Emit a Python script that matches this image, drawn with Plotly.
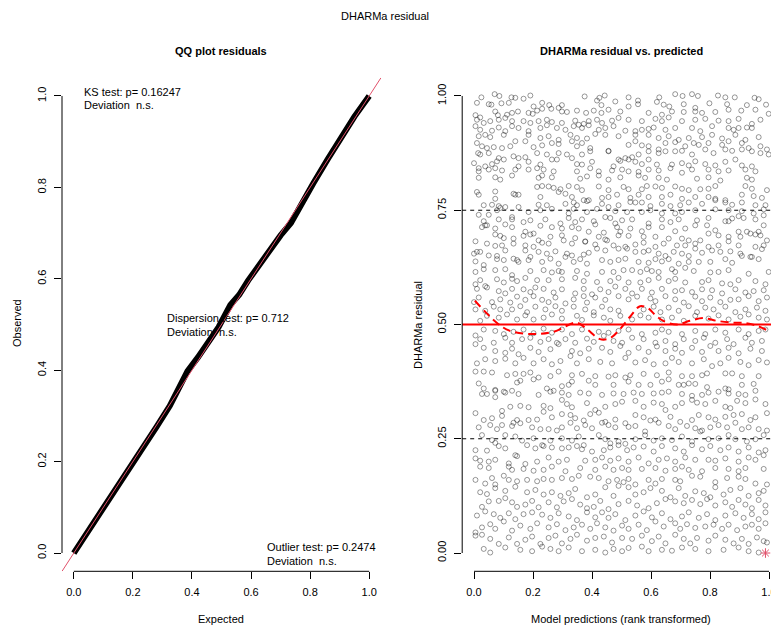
import plotly.graph_objects as go

# ---------------- data ----------------
# QQ plot: expected vs observed quantiles (band centre)
qq_expected = [0.0, 0.06, 0.12, 0.18, 0.235, 0.28, 0.325, 0.36, 0.385, 0.42, 0.45, 0.49,
               0.53, 0.56, 0.59, 0.65, 0.70, 0.735, 0.77, 0.81, 0.86, 0.91, 0.95, 1.0]
qq_observed = [0.0, 0.058, 0.118, 0.178, 0.230, 0.276, 0.322, 0.368, 0.398, 0.428, 0.455, 0.494,
               0.543, 0.565, 0.596, 0.652, 0.695, 0.722, 0.765, 0.808, 0.862, 0.915, 0.955, 1.0]

ks_text = ["KS test: p= 0.16247", "Deviation\u00a0 n.s."]
disp_text = ["Dispersion test: p= 0.712", "Deviation\u00a0 n.s."]
outlier_text = ["Outlier test: p= 0.2474", "Deviation\u00a0 n.s."]

# residual vs predicted scatter, (rank-transformed prediction, scaled residual)
points_band_1 = [
 (0.025,0.997),(0.070,1.004),(0.086,1.000),(0.127,0.997),(0.140,0.996),(0.168,0.994),(0.191,1.001),(0.375,0.999),
 (0.425,0.996),(0.443,1.001),(0.524,0.997),(0.556,0.990),(0.628,0.997),(0.682,1.004),(0.707,1.000),(0.739,1.004),
 (0.759,1.000),(0.827,1.001),(0.852,0.997),(0.884,0.997),(0.951,0.996),(0.965,0.993),
 (0.010,0.985),(0.050,0.982),(0.059,0.981),(0.093,0.984),(0.118,0.985),(0.202,0.977),(0.231,0.985),(0.255,0.980),
 (0.298,0.980),(0.417,0.990),(0.432,0.980),(0.479,0.988),(0.524,0.977),(0.556,0.982),(0.620,0.987),(0.643,0.981),
 (0.662,0.977),(0.711,0.982),(0.750,0.974),(0.798,0.984),(0.858,0.982),(0.925,0.980),(0.990,0.981),
 (0.005,0.958),(0.021,0.953),(0.072,0.966),(0.081,0.958),(0.112,0.959),(0.129,0.963),(0.149,0.966),(0.185,0.963),
 (0.199,0.961),(0.214,0.968),(0.231,0.972),(0.262,0.972),(0.287,0.974),(0.298,0.966),(0.315,0.965),(0.349,0.968),
 (0.380,0.963),(0.406,0.968),(0.432,0.963),(0.456,0.970),(0.496,0.966),(0.592,0.963),(0.637,0.959),(0.671,0.966),
 (0.711,0.965),(0.750,0.966),(0.773,0.963),(0.818,0.965),(0.863,0.970),(0.906,0.968),(0.954,0.970),(0.999,0.961),
 (0.010,0.948),(0.033,0.941),(0.055,0.945),(0.084,0.948),(0.106,0.952),(0.129,0.945),(0.168,0.945),(0.191,0.941),
 (0.219,0.945),(0.247,0.948),(0.264,0.943),(0.298,0.941),(0.343,0.946),(0.355,0.937),(0.372,0.939),(0.389,0.945),
 (0.417,0.948),(0.434,0.941),(0.468,0.946),(0.490,0.952),(0.524,0.948),(0.569,0.945),(0.615,0.950),(0.637,0.945),
 (0.660,0.953),(0.705,0.945),(0.750,0.948),(0.784,0.950),(0.829,0.946),(0.863,0.945),(0.897,0.950),(0.942,0.939),
 (0.971,0.948),
 (0.005,0.934),(0.021,0.926),(0.061,0.924),(0.084,0.931),(0.106,0.923),(0.129,0.934),(0.151,0.930),(0.185,0.923),
 (0.225,0.930),(0.247,0.936),(0.281,0.930),(0.310,0.926),(0.338,0.934),(0.366,0.930),(0.389,0.936),(0.423,0.926),
 (0.445,0.930),(0.473,0.934),(0.513,0.924),(0.547,0.923),(0.569,0.926),(0.592,0.928),(0.609,0.931),(0.649,0.926),
 (0.682,0.930),(0.739,0.930),(0.767,0.923),(0.807,0.934),(0.863,0.930),(0.880,0.926),(0.897,0.930),(0.925,0.931),
 (0.942,0.930),
 (0.016,0.912),(0.038,0.915),(0.055,0.910),(0.101,0.915),(0.140,0.901),(0.185,0.915),(0.225,0.908),(0.253,0.912),
 (0.287,0.904),(0.327,0.915),(0.349,0.908),(0.383,0.907),(0.411,0.917),(0.445,0.915),(0.490,0.912),(0.547,0.915),
 (0.592,0.915),(0.626,0.908),(0.660,0.912),(0.694,0.904),(0.728,0.908),(0.773,0.910),(0.807,0.915),(0.841,0.907),
 (0.886,0.915),(0.920,0.904),(0.965,0.910),
 (0.010,0.897),(0.027,0.890),(0.044,0.886),(0.067,0.888),(0.095,0.886),(0.123,0.890),(0.174,0.901),(0.202,0.888),
 (0.231,0.892),(0.264,0.897),(0.287,0.895),(0.332,0.901),(0.349,0.890),(0.366,0.897),(0.394,0.886),(0.456,0.880),
 (0.524,0.893),(0.547,0.901),(0.569,0.892),(0.592,0.890),(0.626,0.883),(0.649,0.897),(0.682,0.899),(0.716,0.890),
 (0.745,0.897),(0.762,0.893),(0.795,0.897),(0.841,0.893),(0.863,0.901),(0.908,0.897),(0.931,0.886),(0.971,0.890),
 (0.993,0.883),
 (0.014,0.875),(0.021,0.872),(0.050,0.875),(0.084,0.864),(0.134,0.868),(0.151,0.864),(0.174,0.866),(0.214,0.875),
 (0.247,0.872),(0.287,0.875),(0.315,0.872),(0.366,0.872),(0.394,0.879),(0.456,0.879),(0.490,0.861),(0.513,0.864),
 (0.536,0.866),(0.558,0.872),(0.592,0.879),(0.626,0.875),(0.649,0.879),(0.682,0.879),(0.705,0.880),(0.739,0.872),
 (0.784,0.883),(0.812,0.875),(0.852,0.883),(0.875,0.880),(0.908,0.883),(0.942,0.879),(0.971,0.875),(0.999,0.872),
 (0.000,0.853),(0.016,0.842),(0.038,0.846),(0.061,0.851),(0.078,0.857),(0.101,0.861),(0.151,0.846),(0.185,0.856),
 (0.225,0.850),(0.264,0.861),(0.281,0.861),(0.332,0.864),(0.349,0.851),(0.366,0.850),(0.400,0.856),(0.473,0.846),
 (0.496,0.858),(0.524,0.861),(0.547,0.856),(0.569,0.851),(0.592,0.861),(0.620,0.850),(0.671,0.850),(0.705,0.853),
 (0.728,0.848),(0.750,0.857),(0.784,0.851),(0.818,0.848),(0.852,0.856),(0.886,0.861),(0.908,0.848),(0.942,0.846),
 (0.016,0.835),(0.050,0.839),(0.072,0.842),(0.095,0.837),(0.140,0.839),(0.185,0.839),(0.214,0.842),(0.236,0.839),
 (0.270,0.835),(0.349,0.835),(0.394,0.842),(0.423,0.835),(0.468,0.837),(0.502,0.839),(0.524,0.835),(0.558,0.834),
 (0.592,0.839),(0.626,0.837),(0.666,0.842),(0.705,0.832),(0.739,0.839),(0.795,0.839),(0.829,0.835),(0.863,0.837),
 (0.920,0.839),(0.954,0.835),
 (0.016,0.821),(0.072,0.822),(0.089,0.817),(0.129,0.826),(0.219,0.821),(0.231,0.826),(0.264,0.822),(0.360,0.819),
 (0.383,0.824),(0.423,0.826),(0.456,0.817),(0.496,0.822),(0.558,0.826),(0.580,0.821),(0.626,0.821),(0.654,0.817),
 (0.756,0.819),(0.795,0.822),(0.835,0.815),(0.925,0.821),(0.942,0.817),
]

points_band_2 = [
 (0.010,0.790),(0.016,0.784),(0.072,0.791),(0.134,0.786),(0.151,0.784),(0.214,0.801),(0.231,0.803),(0.253,0.802),
 (0.270,0.799),(0.293,0.796),(0.321,0.803),(0.349,0.801),(0.366,0.794),(0.423,0.802),(0.456,0.794),(0.507,0.801),
 (0.524,0.796),(0.569,0.796),(0.586,0.803),(0.615,0.802),(0.637,0.799),(0.682,0.802),(0.705,0.797),(0.728,0.794),
 (0.767,0.796),(0.795,0.797),(0.818,0.803),(0.920,0.803),(0.942,0.797),(0.993,0.794),
 (0.072,0.775),(0.140,0.784),(0.225,0.779),(0.287,0.790),(0.310,0.786),(0.332,0.779),(0.372,0.772),(0.389,0.772),
 (0.434,0.777),(0.456,0.779),(0.485,0.784),(0.530,0.777),(0.558,0.784),(0.592,0.779),(0.637,0.779),(0.666,0.784),
 (0.705,0.775),(0.750,0.779),(0.795,0.779),(0.818,0.775),(0.852,0.772),(0.908,0.784),(0.948,0.781),(0.976,0.777),
 (0.033,0.761),(0.061,0.762),(0.084,0.759),(0.106,0.757),(0.151,0.757),(0.219,0.762),(0.247,0.761),(0.310,0.764),
 (0.338,0.767),(0.349,0.761),(0.383,0.770),(0.434,0.764),(0.456,0.757),(0.490,0.761),(0.530,0.768),(0.547,0.767),
 (0.569,0.767),(0.598,0.759),(0.637,0.764),(0.666,0.759),(0.699,0.761),(0.728,0.767),(0.773,0.764),(0.818,0.772),
 (0.852,0.767),(0.875,0.762),(0.908,0.767),(0.954,0.761),(0.988,0.761),
 (0.016,0.740),(0.050,0.740),(0.078,0.750),(0.089,0.755),(0.129,0.735),(0.185,0.746),(0.225,0.750),(0.264,0.753),
 (0.321,0.743),(0.338,0.753),(0.383,0.746),(0.417,0.753),(0.445,0.735),(0.479,0.748),(0.519,0.746),(0.569,0.746),
 (0.598,0.750),(0.637,0.743),(0.682,0.743),(0.705,0.746),(0.750,0.750),(0.818,0.752),(0.863,0.750),(0.908,0.748),
 (0.948,0.743),(0.982,0.752),
 (0.033,0.726),(0.038,0.717),(0.084,0.730),(0.129,0.730),(0.168,0.724),(0.191,0.728),(0.242,0.730),(0.293,0.721),
 (0.321,0.733),(0.343,0.724),(0.366,0.730),(0.406,0.726),(0.462,0.733),(0.479,0.721),(0.502,0.728),(0.536,0.730),
 (0.592,0.721),(0.637,0.730),(0.666,0.724),(0.694,0.730),(0.756,0.728),(0.795,0.733),(0.852,0.726),(0.875,0.732),
 (0.897,0.737),(0.914,0.733),(0.954,0.730),(0.982,0.739),
 (0.027,0.713),(0.044,0.717),(0.072,0.710),(0.106,0.719),(0.129,0.713),(0.174,0.703),(0.202,0.699),(0.225,0.716),
 (0.264,0.713),(0.298,0.710),(0.332,0.713),(0.355,0.710),(0.389,0.703),(0.411,0.719),(0.440,0.701),(0.485,0.713),
 (0.496,0.703),(0.530,0.710),(0.569,0.704),(0.592,0.713),(0.637,0.713),(0.682,0.704),(0.716,0.710),(0.750,0.717),
 (0.790,0.717),(0.818,0.706),(0.863,0.726),(0.897,0.703),(0.925,0.703),(0.965,0.703),(0.982,0.717),
 (0.005,0.682),(0.072,0.697),(0.089,0.694),(0.101,0.689),(0.134,0.688),(0.168,0.694),(0.191,0.697),(0.219,0.684),
 (0.259,0.692),(0.298,0.695),(0.343,0.689),(0.377,0.682),(0.423,0.692),(0.451,0.684),(0.490,0.695),(0.524,0.694),
 (0.575,0.692),(0.615,0.692),(0.660,0.688),(0.705,0.688),(0.728,0.684),(0.767,0.684),(0.795,0.699),(0.829,0.695),
 (0.863,0.692),(0.903,0.692),(0.937,0.699),(0.954,0.697),(0.971,0.695),(0.993,0.684),
 (0.000,0.655),(0.044,0.677),(0.072,0.672),(0.095,0.673),(0.134,0.677),(0.174,0.673),(0.202,0.670),(0.231,0.679),
 (0.253,0.677),(0.304,0.684),(0.332,0.677),(0.377,0.681),(0.411,0.675),(0.445,0.686),(0.473,0.673),(0.513,0.670),
 (0.547,0.675),(0.575,0.679),(0.615,0.670),(0.643,0.677),(0.688,0.673),(0.716,0.673),(0.750,0.677),(0.795,0.670),
 (0.829,0.673),(0.863,0.682),(0.897,0.673),(0.954,0.670),(0.982,0.673),
 (0.010,0.659),(0.021,0.659),(0.050,0.651),(0.078,0.650),(0.106,0.662),(0.146,0.641),(0.174,0.662),(0.191,0.648),
 (0.219,0.659),(0.247,0.655),(0.276,0.660),(0.315,0.655),(0.332,0.651),(0.372,0.653),(0.389,0.657),(0.417,0.666),
 (0.445,0.662),(0.490,0.666),(0.519,0.666),(0.547,0.659),(0.575,0.659),(0.592,0.662),(0.626,0.655),(0.649,0.650),
 (0.677,0.659),(0.705,0.655),(0.728,0.650),(0.750,0.666),(0.773,0.657),(0.807,0.662),(0.835,0.659),(0.869,0.660),
 (0.903,0.655),(0.942,0.648),(0.976,0.665),
 (0.005,0.638),(0.033,0.630),(0.078,0.643),(0.101,0.641),(0.134,0.644),(0.151,0.637),(0.185,0.641),(0.231,0.637),
 (0.259,0.644),(0.287,0.633),(0.310,0.648),(0.338,0.637),(0.360,0.643),(0.383,0.633),(0.434,0.641),(0.462,0.637),
 (0.490,0.641),(0.513,0.644),(0.558,0.637),(0.592,0.635),(0.615,0.643),(0.637,0.638),(0.660,0.643),(0.694,0.633),
 (0.728,0.637),(0.762,0.637),(0.801,0.637),(0.852,0.643),(0.875,0.635),(0.908,0.650),(0.937,0.648),(0.965,0.643),
 (0.005,0.615),(0.033,0.621),(0.072,0.619),(0.106,0.621),(0.129,0.608),(0.191,0.617),(0.236,0.619),(0.264,0.614),
 (0.287,0.617),(0.298,0.615),(0.349,0.617),(0.383,0.611),(0.434,0.615),(0.473,0.615),(0.507,0.619),(0.536,0.619),
 (0.564,0.615),(0.586,0.621),(0.603,0.617),(0.626,0.615),(0.671,0.621),(0.682,0.615),(0.716,0.624),(0.745,0.617),
 (0.801,0.614),(0.829,0.615),(0.863,0.619),(0.931,0.611),(0.999,0.615),
]

points_band_3 = [
 (0.005,0.588),(0.021,0.597),(0.038,0.584),(0.078,0.599),(0.101,0.592),(0.129,0.600),(0.146,0.595),(0.174,0.602),
 (0.214,0.597),(0.253,0.597),(0.298,0.599),(0.343,0.602),(0.372,0.595),(0.417,0.593),(0.462,0.595),(0.490,0.602),
 (0.524,0.592),(0.564,0.592),(0.592,0.597),(0.626,0.602),(0.660,0.595),(0.682,0.600),(0.716,0.592),(0.773,0.593),
 (0.795,0.597),(0.841,0.590),(0.869,0.588),(0.897,0.597),(0.954,0.595),(0.988,0.588),
 (0.010,0.578),(0.044,0.581),(0.084,0.573),(0.106,0.568),(0.129,0.578),(0.168,0.577),(0.191,0.571),(0.208,0.581),
 (0.236,0.578),(0.270,0.570),(0.298,0.577),(0.343,0.568),(0.372,0.578),(0.400,0.566),(0.428,0.577),(0.456,0.571),
 (0.479,0.583),(0.513,0.578),(0.536,0.568),(0.569,0.578),(0.603,0.570),(0.637,0.578),(0.682,0.573),(0.705,0.575),
 (0.739,0.571),(0.773,0.577),(0.807,0.575),(0.841,0.568),(0.886,0.577),(0.920,0.570),(0.948,0.573),(0.982,0.575),
 (0.000,0.549),(0.016,0.559),(0.061,0.549),(0.089,0.555),(0.123,0.548),(0.146,0.561),(0.174,0.554),(0.202,0.562),
 (0.231,0.554),(0.253,0.549),(0.276,0.559),(0.310,0.546),(0.338,0.555),(0.372,0.562),(0.383,0.548),(0.411,0.559),
 (0.445,0.554),(0.490,0.562),(0.524,0.555),(0.553,0.561),(0.598,0.557),(0.615,0.551),(0.649,0.562),(0.682,0.555),
 (0.711,0.548),(0.750,0.561),(0.773,0.551),(0.801,0.559),(0.835,0.549),(0.869,0.554),(0.897,0.555),(0.931,0.562),
 (0.965,0.551),(0.993,0.559),
 (0.005,0.533),(0.038,0.530),(0.067,0.539),(0.089,0.533),(0.129,0.533),(0.157,0.540),(0.180,0.527),(0.208,0.539),
 (0.242,0.533),(0.276,0.540),(0.298,0.530),(0.338,0.539),(0.377,0.533),(0.406,0.527),(0.434,0.539),(0.462,0.533),
 (0.490,0.530),(0.575,0.533),(0.609,0.539),(0.632,0.527),(0.660,0.537),(0.694,0.530),(0.728,0.540),(0.756,0.527),
 (0.784,0.537),(0.812,0.533),(0.852,0.539),(0.886,0.527),(0.920,0.533),(0.959,0.537),(0.988,0.530),
 (0.021,0.508),(0.044,0.519),(0.084,0.515),(0.112,0.522),(0.146,0.511),(0.174,0.520),(0.202,0.511),(0.236,0.515),
 (0.264,0.522),(0.298,0.513),(0.349,0.519),(0.366,0.510),(0.406,0.520),(0.440,0.515),(0.462,0.508),(0.496,0.519),
 (0.536,0.511),(0.564,0.520),(0.592,0.515),(0.637,0.511),(0.671,0.515),(0.711,0.508),(0.750,0.519),(0.795,0.513),
 (0.829,0.520),(0.863,0.511),(0.903,0.517),(0.931,0.522),(0.965,0.515),(0.993,0.511),
 (0.005,0.476),(0.033,0.489),(0.072,0.486),(0.101,0.479),(0.134,0.484),(0.168,0.489),(0.202,0.481),(0.236,0.491),
 (0.264,0.482),(0.298,0.489),(0.332,0.479),(0.366,0.489),(0.423,0.484),(0.456,0.482),(0.490,0.486),(0.524,0.489),
 (0.569,0.479),(0.615,0.482),(0.637,0.489),(0.660,0.484),(0.705,0.479),(0.750,0.486),(0.784,0.479),(0.818,0.489),
 (0.852,0.482),(0.897,0.489),(0.931,0.479),(0.965,0.486),(0.988,0.489),
 (0.005,0.457),(0.021,0.468),(0.067,0.460),(0.106,0.471),(0.129,0.460),(0.163,0.468),(0.191,0.471),(0.225,0.462),
 (0.253,0.468),(0.281,0.460),(0.310,0.468),(0.343,0.460),(0.383,0.469),(0.406,0.462),(0.440,0.475),(0.473,0.464),
 (0.502,0.460),(0.536,0.471),(0.575,0.468),(0.615,0.460),(0.649,0.464),(0.682,0.457),(0.711,0.468),(0.750,0.464),
 (0.779,0.471),(0.818,0.460),(0.858,0.468),(0.880,0.457),(0.920,0.471),(0.942,0.460),(0.976,0.464),
 (0.033,0.449),(0.072,0.442),(0.106,0.438),(0.129,0.447),(0.151,0.435),(0.191,0.449),(0.219,0.440),(0.259,0.446),
 (0.287,0.457),(0.332,0.442),(0.360,0.437),(0.389,0.447),(0.434,0.449),(0.462,0.440),(0.496,0.453),(0.524,0.438),
 (0.558,0.449),(0.592,0.440),(0.620,0.452),(0.649,0.442),(0.682,0.447),(0.705,0.438),(0.739,0.449),(0.773,0.440),
 (0.801,0.453),(0.829,0.442),(0.863,0.449),(0.897,0.437),(0.937,0.447),(0.976,0.442),
 (0.010,0.415),(0.038,0.424),(0.072,0.420),(0.106,0.425),(0.140,0.415),(0.168,0.427),(0.202,0.415),(0.236,0.424),
 (0.264,0.413),(0.293,0.420),(0.327,0.431),(0.349,0.415),(0.389,0.424),(0.428,0.418),(0.468,0.415),(0.513,0.427),
 (0.547,0.417),(0.580,0.422),(0.609,0.413),(0.649,0.415),(0.671,0.427),(0.694,0.418),(0.739,0.415),(0.779,0.424),
 (0.807,0.409),(0.835,0.415),(0.863,0.427),(0.903,0.418),(0.931,0.411),(0.965,0.422),(0.993,0.417),
]

points_band_4 = [
 (0.005,0.397),(0.033,0.397),(0.061,0.395),(0.112,0.389),(0.140,0.392),(0.168,0.392),(0.191,0.395),(0.219,0.384),
 (0.259,0.387),(0.287,0.397),(0.332,0.389),(0.366,0.392),(0.411,0.387),(0.456,0.386),(0.479,0.389),(0.513,0.384),
 (0.530,0.389),(0.575,0.392),(0.620,0.389),(0.660,0.395),(0.705,0.387),(0.739,0.387),(0.773,0.389),(0.790,0.393),
 (0.852,0.393),(0.875,0.393),(0.908,0.387),(0.965,0.387),
 (0.016,0.371),(0.033,0.360),(0.072,0.355),(0.101,0.353),(0.146,0.373),(0.157,0.377),(0.202,0.380),(0.247,0.360),
 (0.270,0.355),(0.298,0.365),(0.321,0.368),(0.332,0.375),(0.389,0.377),(0.411,0.368),(0.473,0.368),(0.524,0.375),
 (0.558,0.368),(0.598,0.368),(0.637,0.375),(0.660,0.380),(0.694,0.368),(0.711,0.368),(0.728,0.371),(0.750,0.370),
 (0.790,0.363),(0.852,0.360),(0.863,0.358),(0.908,0.368),(0.948,0.370),
 (0.027,0.348),(0.044,0.348),(0.072,0.357),(0.106,0.351),(0.129,0.355),(0.151,0.348),(0.219,0.346),(0.259,0.353),
 (0.298,0.351),(0.321,0.346),(0.360,0.351),(0.389,0.349),(0.434,0.346),(0.473,0.349),(0.507,0.348),(0.541,0.351),
 (0.569,0.348),(0.609,0.349),(0.637,0.351),(0.660,0.353),(0.705,0.348),(0.739,0.344),(0.773,0.346),(0.795,0.351),
 (0.829,0.353),(0.863,0.349),(0.897,0.348),(0.920,0.346),(0.954,0.355),
 (0.005,0.306),(0.072,0.341),(0.095,0.311),(0.123,0.320),(0.157,0.322),(0.185,0.319),(0.236,0.322),(0.259,0.317),
 (0.298,0.335),(0.315,0.326),(0.332,0.319),(0.383,0.328),(0.411,0.313),(0.445,0.320),(0.479,0.326),(0.502,0.331),
 (0.547,0.333),(0.575,0.320),(0.609,0.329),(0.637,0.326),(0.682,0.320),(0.705,0.328),(0.739,0.335),(0.756,0.329),
 (0.784,0.326),(0.818,0.333),(0.852,0.320),(0.869,0.317),(0.892,0.333),(0.920,0.328),(0.954,0.336),(0.988,0.326),
 (0.033,0.291),(0.061,0.295),(0.095,0.300),(0.134,0.285),(0.146,0.291),(0.185,0.291),(0.214,0.292),(0.236,0.309),
 (0.264,0.297),(0.298,0.304),(0.327,0.302),(0.343,0.295),(0.372,0.290),(0.394,0.304),(0.423,0.307),(0.445,0.287),
 (0.479,0.292),(0.513,0.284),(0.547,0.302),(0.575,0.297),(0.615,0.292),(0.649,0.313),(0.666,0.298),(0.699,0.287),
 (0.739,0.291),(0.762,0.302),(0.795,0.297),(0.818,0.292),(0.852,0.298),(0.880,0.302),(0.908,0.304),(0.937,0.291),
 (0.954,0.297),(0.993,0.306),
 (0.016,0.275),(0.055,0.280),(0.078,0.271),(0.095,0.280),(0.129,0.278),(0.157,0.284),(0.197,0.275),(0.225,0.271),
 (0.253,0.271),(0.281,0.268),(0.298,0.275),(0.327,0.285),(0.349,0.273),(0.377,0.280),(0.400,0.273),(0.434,0.285),
 (0.456,0.280),(0.479,0.275),(0.524,0.276),(0.547,0.278),(0.580,0.266),(0.598,0.290),(0.626,0.285),(0.660,0.278),
 (0.682,0.271),(0.722,0.278),(0.750,0.273),(0.773,0.268),(0.801,0.275),(0.829,0.280),(0.858,0.275),(0.886,0.285),
 (0.908,0.271),(0.931,0.275),(0.965,0.271),(0.993,0.268),
 (0.027,0.258),(0.061,0.247),(0.072,0.241),(0.106,0.258),(0.140,0.255),(0.163,0.246),(0.202,0.251),(0.231,0.236),
 (0.259,0.246),(0.298,0.251),(0.332,0.246),(0.355,0.255),(0.372,0.236),(0.423,0.258),(0.445,0.249),(0.462,0.240),
 (0.490,0.244),(0.513,0.239),(0.547,0.249),(0.580,0.258),(0.609,0.246),(0.637,0.251),(0.671,0.247),(0.705,0.255),
 (0.739,0.244),(0.767,0.266),(0.795,0.249),(0.829,0.251),(0.863,0.258),(0.886,0.249),(0.925,0.244),(0.954,0.249),
 (0.982,0.258),
 (0.005,0.225),(0.044,0.224),(0.084,0.234),(0.106,0.229),(0.146,0.212),(0.180,0.236),(0.208,0.229),(0.236,0.234),
 (0.264,0.231),(0.298,0.229),(0.321,0.231),(0.349,0.234),(0.366,0.227),(0.400,0.222),(0.440,0.225),(0.462,0.231),
 (0.490,0.236),(0.519,0.225),(0.541,0.231),(0.575,0.233),(0.609,0.222),(0.637,0.234),(0.682,0.229),(0.711,0.222),
 (0.739,0.236),(0.773,0.227),(0.801,0.234),(0.835,0.225),(0.863,0.231),(0.897,0.222),(0.931,0.231),(0.965,0.220),
 (0.988,0.225),
 (0.005,0.207),(0.021,0.202),(0.050,0.200),(0.072,0.204),(0.118,0.196),(0.140,0.214),(0.174,0.195),(0.214,0.200),
 (0.253,0.209),(0.287,0.200),(0.315,0.204),(0.377,0.202),(0.411,0.204),(0.434,0.209),(0.462,0.202),(0.490,0.207),
 (0.524,0.200),(0.558,0.209),(0.592,0.196),(0.626,0.204),(0.654,0.207),(0.682,0.200),(0.716,0.209),(0.750,0.204),
 (0.795,0.204),(0.818,0.202),(0.852,0.207),(0.897,0.200),(0.931,0.209),(0.954,0.204),(0.982,0.214),
]

points_band_5 = [
 (0.021,0.189),(0.050,0.186),(0.118,0.189),(0.129,0.182),(0.168,0.184),(0.202,0.180),(0.236,0.182),(0.264,0.189),
 (0.310,0.179),(0.360,0.186),(0.411,0.182),(0.445,0.189),(0.473,0.182),(0.502,0.186),(0.524,0.182),(0.569,0.184),
 (0.615,0.186),(0.649,0.180),(0.682,0.184),(0.705,0.189),(0.728,0.182),(0.773,0.179),(0.818,0.186),(0.863,0.184),
 (0.897,0.179),(0.920,0.186),(0.982,0.184),
 (0.005,0.160),(0.038,0.152),(0.061,0.164),(0.072,0.150),(0.101,0.169),(0.118,0.160),(0.146,0.157),(0.180,0.160),
 (0.214,0.157),(0.236,0.162),(0.264,0.160),(0.298,0.164),(0.332,0.162),(0.355,0.169),(0.394,0.167),(0.423,0.164),
 (0.456,0.157),(0.485,0.160),(0.507,0.155),(0.524,0.162),(0.547,0.150),(0.592,0.160),(0.615,0.152),(0.637,0.162),
 (0.682,0.160),(0.699,0.157),(0.739,0.169),(0.767,0.167),(0.818,0.155),(0.858,0.164),(0.897,0.167),(0.920,0.162),
 (0.954,0.152),(0.993,0.150),
 (0.021,0.133),(0.044,0.129),(0.072,0.142),(0.106,0.136),(0.140,0.145),(0.180,0.133),(0.208,0.138),(0.236,0.128),
 (0.264,0.133),(0.293,0.125),(0.321,0.131),(0.343,0.140),(0.383,0.122),(0.411,0.128),(0.445,0.144),(0.473,0.125),
 (0.490,0.147),(0.524,0.144),(0.547,0.128),(0.575,0.133),(0.598,0.142),(0.637,0.136),(0.666,0.122),(0.694,0.142),
 (0.716,0.125),(0.750,0.135),(0.779,0.131),(0.801,0.122),(0.818,0.144),(0.846,0.128),(0.869,0.138),(0.903,0.142),
 (0.931,0.125),(0.965,0.131),(0.982,0.136),
 (0.027,0.101),(0.050,0.113),(0.084,0.114),(0.106,0.120),(0.129,0.111),(0.146,0.101),(0.174,0.106),(0.197,0.114),
 (0.219,0.100),(0.253,0.111),(0.281,0.100),(0.304,0.113),(0.332,0.118),(0.360,0.106),(0.383,0.098),(0.406,0.101),
 (0.428,0.114),(0.456,0.096),(0.490,0.107),(0.524,0.114),(0.553,0.104),(0.592,0.098),(0.620,0.109),(0.649,0.118),
 (0.682,0.113),(0.711,0.109),(0.739,0.116),(0.767,0.107),(0.790,0.118),(0.818,0.104),(0.852,0.111),(0.875,0.101),
 (0.897,0.116),(0.920,0.106),(0.942,0.098),(0.965,0.116),(0.988,0.104),
 (0.010,0.082),(0.038,0.091),(0.067,0.085),(0.089,0.077),(0.118,0.087),(0.140,0.074),(0.168,0.085),(0.197,0.089),
 (0.231,0.084),(0.259,0.077),(0.287,0.087),(0.321,0.080),(0.349,0.072),(0.383,0.089),(0.411,0.078),(0.434,0.089),
 (0.456,0.077),(0.479,0.085),(0.513,0.072),(0.547,0.082),(0.575,0.091),(0.603,0.078),(0.637,0.087),(0.666,0.074),
 (0.705,0.080),(0.728,0.089),(0.762,0.077),(0.790,0.085),(0.818,0.072),(0.852,0.082),(0.886,0.087),(0.914,0.077),
 (0.942,0.085),(0.965,0.074),(0.988,0.089),
 (0.005,0.045),(0.027,0.056),(0.055,0.063),(0.072,0.053),(0.101,0.069),(0.129,0.049),(0.157,0.060),(0.191,0.053),
 (0.214,0.065),(0.253,0.056),(0.281,0.063),(0.310,0.050),(0.338,0.056),(0.366,0.062),(0.394,0.053),(0.417,0.065),
 (0.445,0.056),(0.473,0.049),(0.502,0.060),(0.524,0.053),(0.558,0.062),(0.586,0.050),(0.615,0.069),(0.643,0.058),
 (0.682,0.065),(0.699,0.053),(0.722,0.063),(0.750,0.055),(0.784,0.058),(0.812,0.062),(0.841,0.053),(0.863,0.062),
 (0.892,0.050),(0.920,0.058),(0.942,0.062),(0.965,0.053),(0.988,0.065),
 (0.005,0.038),(0.027,0.040),(0.055,0.031),(0.084,0.020),(0.118,0.034),(0.146,0.020),(0.174,0.029),(0.197,0.036),
 (0.225,0.020),(0.253,0.033),(0.276,0.038),(0.298,0.021),(0.327,0.031),(0.349,0.040),(0.383,0.027),(0.411,0.033),
 (0.440,0.036),(0.468,0.023),(0.502,0.033),(0.536,0.031),(0.569,0.038),(0.603,0.026),(0.626,0.036),(0.649,0.021),
 (0.682,0.040),(0.711,0.031),(0.733,0.021),(0.756,0.033),(0.795,0.027),(0.818,0.038),(0.852,0.029),(0.880,0.021),
 (0.908,0.031),(0.931,0.020),(0.959,0.034),(0.982,0.026),
 (0.033,0.009),(0.055,0.001),(0.106,0.012),(0.157,0.007),(0.197,0.004),(0.231,0.014),(0.259,0.009),(0.287,0.004),
 (0.321,0.012),(0.366,0.004),(0.411,0.007),(0.445,0.001),(0.473,0.009),(0.502,0.004),(0.524,0.011),(0.569,0.014),
 (0.592,0.004),(0.637,0.007),(0.671,0.005),(0.705,0.012),(0.750,0.009),(0.795,0.004),(0.846,0.007),(0.897,0.012),
 (0.931,0.004),(0.965,0.001),(0.993,0.023),
]

# outlier (red asterisk)
outlier_pred = [0.988]
outlier_resid = [0.0]

# quantile-regression smooth (red dashed)
smooth_pred = [0.003, 0.077, 0.122, 0.201, 0.269, 0.348, 0.382, 0.427, 0.461, 0.495, 0.529, 0.563,
               0.591, 0.614, 0.642, 0.687, 0.732, 0.777, 0.823, 0.879, 0.924, 0.964, 0.998]
smooth_resid = [0.552, 0.504, 0.486, 0.479, 0.484, 0.504, 0.490, 0.468, 0.470, 0.490, 0.517, 0.540,
                0.535, 0.521, 0.508, 0.500, 0.508, 0.514, 0.508, 0.504, 0.503, 0.496, 0.486]

quantile_levels = [0.25, 0.5, 0.75]

x_ticks = [0.0, 0.2, 0.4, 0.6, 0.8, 1.0]
x_ticklabels = ["0.0", "0.2", "0.4", "0.6", "0.8", "1.0"]
qq_y_ticks = [0.0, 0.2, 0.4, 0.6, 0.8, 1.0]
qq_y_ticklabels = ["0.0", "0.2", "0.4", "0.6", "0.8", "1.0"]
res_y_ticks = [0.0, 0.25, 0.5, 0.75, 1.0]
res_y_ticklabels = ["0.00", "0.25", "0.50", "0.75", "1.00"]

# ---------------- figure ----------------
W, H = 771, 627
FONT = "Liberation Sans, Arial, sans-serif"


def pp(x, y):
    return x / W, 1 - y / H


all_points = points_band_1 + points_band_2 + points_band_3 + points_band_4 + points_band_5
pred = [p[0] for p in all_points]
resid = [p[1] for p in all_points]

axis_lo, axis_hi = -0.04, 1.04

fig = go.Figure()

# QQ plot
fig.add_trace(go.Scatter(x=qq_expected, y=qq_observed, mode="lines",
                         line=dict(color="black", width=6), xaxis="x", yaxis="y",
                         hoverinfo="skip", showlegend=False))
fig.add_trace(go.Scatter(x=[axis_lo, axis_hi], y=[axis_lo, axis_hi], mode="lines",
                         line=dict(color="#E0506A", width=1), xaxis="x", yaxis="y",
                         hoverinfo="skip", showlegend=False))

# residual vs predicted
fig.add_trace(go.Scatter(x=pred, y=resid, mode="markers",
                         marker=dict(symbol="circle-open", size=5, color="rgba(0,0,0,0.40)",
                                     line=dict(width=1, color="rgba(0,0,0,0.40)")),
                         xaxis="x2", yaxis="y2", hoverinfo="skip", showlegend=False))

shapes = []
for q in quantile_levels:
    if q == 0.5:
        shapes.append(dict(type="line", xref="x2 domain", yref="y2", x0=0, x1=1, y0=q, y1=q,
                           line=dict(color="red", width=2), layer="above"))
    else:
        shapes.append(dict(type="line", xref="x2 domain", yref="y2", x0=0, x1=1, y0=q, y1=q,
                           line=dict(color="black", width=1, dash="4px,4px"), layer="above"))

fig.add_trace(go.Scatter(x=smooth_pred, y=smooth_resid, mode="lines", line_shape="spline",
                         line=dict(color="red", width=2, dash="8px,5px"),
                         xaxis="x2", yaxis="y2", hoverinfo="skip", showlegend=False))
fig.add_trace(go.Scatter(x=outlier_pred, y=outlier_resid, mode="markers",
                         marker=dict(symbol="asterisk-open", size=8, color="#E0506A",
                                     line=dict(width=1, color="#E0506A")),
                         xaxis="x2", yaxis="y2", hoverinfo="skip", showlegend=False))

# R-style axis lines spanning the tick range only
for xr, yr in (("x", "y"), ("x2", "y2")):
    shapes.append(dict(type="line", xref=f"{xr} domain", yref=yr, x0=0, x1=0, y0=0, y1=1,
                       line=dict(color="black", width=1)))
    shapes.append(dict(type="line", xref=xr, yref=f"{yr} domain", x0=0, x1=1, y0=0, y1=0,
                       line=dict(color="black", width=1)))

ydom = [(H - 571.3) / H, (H - 77.7) / H]
common_axis = dict(showgrid=False, zeroline=False, showline=False, ticks="outside", ticklen=7,
                   tickwidth=1, tickcolor="black", automargin=False, ticklabeloverflow="allow",
                   tickfont=dict(family=FONT, size=11, color="black"))

fig.update_layout(
    width=W, height=H, margin=dict(l=0, r=0, t=0, b=0), autosize=False,
    paper_bgcolor="white", plot_bgcolor="white", showlegend=False,
    xaxis=dict(domain=[62 / W, 381 / W], range=[axis_lo, axis_hi], anchor="y",
               tickvals=x_ticks, ticktext=x_ticklabels, ticklabelstandoff=3, **common_axis),
    yaxis=dict(domain=ydom, range=[axis_lo, axis_hi], anchor="x", tickangle=-90,
               tickvals=qq_y_ticks, ticktext=qq_y_ticklabels, ticklabelstandoff=4, **common_axis),
    xaxis2=dict(domain=[462.2 / W, 1.0], range=[axis_lo, (W - 474) / 295], anchor="y2",
                tickvals=x_ticks, ticktext=x_ticklabels, ticklabelstandoff=3, **common_axis),
    yaxis2=dict(domain=ydom, range=[axis_lo, axis_hi], anchor="x2", tickangle=-90,
                tickvals=res_y_ticks, ticktext=res_y_ticklabels, ticklabelstandoff=4, **common_axis),
    shapes=shapes,
)

annotations = []


def add_text(text, x, y, bold=False, angle=0, xanchor="center"):
    ax, ay = pp(x, y)
    annotations.append(dict(text=f"<b>{text}</b>" if bold else text, x=ax, y=ay,
                            xref="paper", yref="paper", showarrow=False, textangle=angle,
                            xanchor=xanchor, yanchor="middle",
                            font=dict(family=FONT, size=11, color="black")))


add_text("DHARMa residual", 385, 16)
add_text("QQ plot residuals", 221, 51, bold=True)
add_text("DHARMa residual vs. predicted", 621, 51, bold=True)
add_text("Expected", 221, 619)
add_text("Observed", 17, 323, angle=-90)
add_text("Model predictions (rank transformed)", 621, 619)
add_text("DHARMa residual", 418, 325, angle=-90)
add_text(ks_text[0], 82, 92, xanchor="left")
add_text(ks_text[1], 82, 105, xanchor="left")
add_text(disp_text[0], 165, 318, xanchor="left")
add_text(disp_text[1], 165, 332, xanchor="left")
add_text(outlier_text[0], 265, 547, xanchor="left")
add_text(outlier_text[1], 265, 561, xanchor="left")

fig.update_layout(annotations=annotations)

fig.write_html("out.html", config={"displayModeBar": False},
               post_script="document.body.style.margin='0px';document.body.style.overflow='hidden';")
